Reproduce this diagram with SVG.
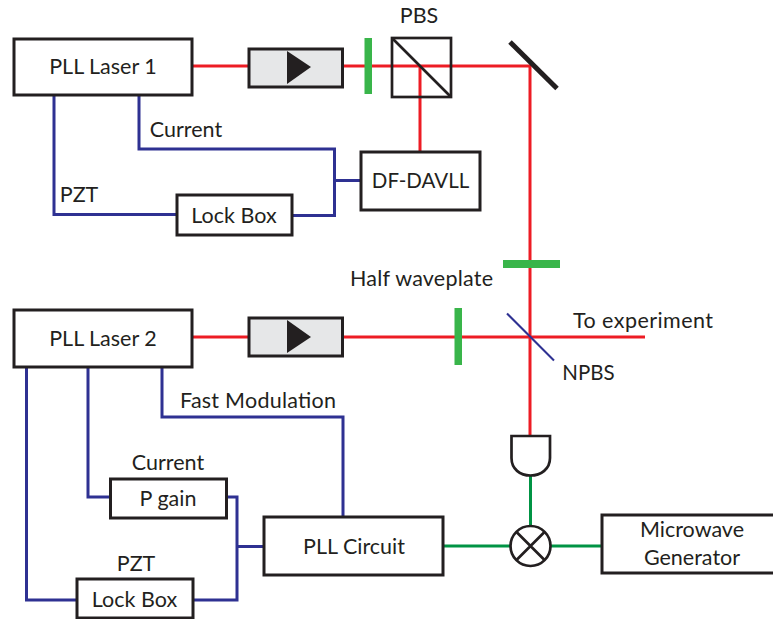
<svg xmlns="http://www.w3.org/2000/svg" width="773" height="619" viewBox="0 0 773 619">
<style>
text{font-family:"Lato","Open Sans","Liberation Sans",sans-serif;font-size:21.500px;fill:#231f20;text-anchor:middle}
.box{fill:#fff;stroke:#231f20;stroke-width:3}
.iso{fill:#e6e7e8;stroke:#231f20;stroke-width:3}
.tri{fill:#231f20}
.plate{fill:#39b54a}
.red,.blue,.grn{fill:none;stroke-width:3}
.red{stroke:#ed1c24}.blue{stroke:#2e3192}.grn{stroke:#009444}
.ln{fill:none;stroke:#231f20;stroke-width:2.700}
</style>
<g id="connectors">
<path class="red" d="M192 66H530V435M420 66V152M192 337H645"/>
<path class="blue" d="M54 95V214.500H177M139 95V149H334.500V215.500H292M334.500 180.500H361"/>
<path class="blue" d="M26.500 367V600H77M88 367V497H110M162 367V417H343V517M226 497H237V600H193M237 546.500H264"/>
<path class="grn" d="M530.500 476V526M443 546H602"/>
</g>
<g id="laser1"><rect class="box" x="14" y="39" width="178" height="56"/><text x="103" y="74">PLL Laser 1</text></g>
<g id="isolator1"><rect class="iso" x="249" y="49" width="93.500" height="38"/><path class="tri" d="M287 51L311 67L287 84Z"/></g>
<g id="waveplate1"><rect class="plate" x="364.500" y="38" width="7.500" height="56"/></g>
<g id="pbs"><rect class="ln" x="392" y="38" width="59" height="59"/><path class="ln" d="M392 38L451 97"/><text x="419" y="23">PBS</text></g>
<g id="mirror"><path d="M510 42L557 88.500" fill="none" stroke="#231f20" stroke-width="5"/></g>
<g id="davll"><rect class="box" x="361" y="152" width="119" height="58"/><text x="420.500" y="188" style="font-size:20.500px">DF-DAVLL</text></g>
<g id="lockbox1"><rect class="box" x="177" y="195" width="115" height="40"/><text x="234" y="223">Lock Box</text></g>
<text x="186" y="137">Current</text>
<text x="79" y="202">PZT</text>
<g id="halfwave"><rect class="plate" x="503" y="260" width="57" height="8"/><text x="421.500" y="286" textLength="143">Half waveplate</text></g>
<g id="laser2"><rect class="box" x="14" y="310" width="178" height="57"/><text x="103" y="346">PLL Laser 2</text></g>
<g id="isolator2"><rect class="iso" x="249" y="318" width="93.500" height="38"/><path class="tri" d="M287 320L311 337L287 353Z"/></g>
<g id="waveplate2"><rect class="plate" x="454.500" y="308" width="7.500" height="57"/></g>
<g id="npbs"><path d="M507 313.500L554 360.500" fill="none" stroke="#2e3192" stroke-width="2"/><text x="588.500" y="380" style="font-size:20.500px">NPBS</text></g>
<text x="643" y="328" textLength="140">To experiment</text>
<g id="detector"><path class="ln" d="M511.500 436H550V458C550 469 541 475.500 530.500 475.500C520 475.500 511.500 469 511.500 458Z"/></g>
<g id="mixer"><circle class="ln" cx="530.500" cy="546" r="20" style="fill:#fff"/><path class="ln" d="M516.500 532L544.500 560M544.500 532L516.500 560"/></g>
<g id="microwave"><rect class="box" x="602" y="515" width="175" height="58"/><text x="692" y="537">Microwave</text><text x="692" y="565">Generator</text></g>
<g id="pllcircuit"><rect class="box" x="264" y="517" width="179" height="58"/><text x="354" y="554">PLL Circuit</text></g>
<g id="pgain"><rect class="box" x="110.500" y="479" width="116" height="39"/><text x="168" y="506">P gain</text></g>
<g id="lockbox2"><rect class="box" x="77" y="579" width="116" height="39"/><text x="134.500" y="607">Lock Box</text></g>
<text x="168" y="470">Current</text>
<text x="136" y="571">PZT</text>
<text x="258" y="408" textLength="156">Fast Modulation</text>
</svg>
